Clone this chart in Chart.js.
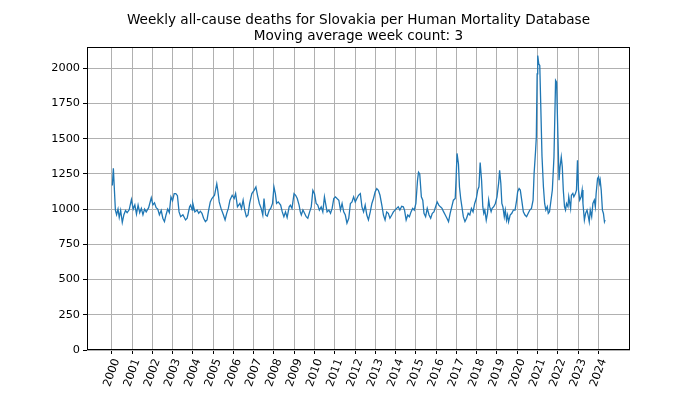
<!DOCTYPE html>
<html>
<head>
<meta charset="utf-8">
<script src="https://cdn.jsdelivr.net/npm/chart.js@4.4.1/dist/chart.umd.min.js"></script>
<style>
  html, body { margin: 0; padding: 0; background: #fff; }
  canvas { display: block; }
</style>
</head>
<body>
<canvas id="deaths-chart" width="700" height="394"></canvas>
<script>
// tick labels
const yearTicks = [2000, 2001, 2002, 2003, 2004, 2005, 2006, 2007, 2008, 2009, 2010, 2011, 2012,
                   2013, 2014, 2015, 2016, 2017, 2018, 2019, 2020, 2021, 2022, 2023, 2024];
const deathTicks = [0, 250, 500, 750, 1000, 1250, 1500, 1750, 2000];

// weekly deaths (3 week moving average): [decimal year, deaths]
const deathsByWeek = [
  [2000.03,1168],[2000.08,1290],[2000.18,993],[2000.24,960],[2000.31,1000],[2000.37,940],[2000.44,990],[2000.52,905],
  [2000.6,960],[2000.68,990],[2000.76,975],[2000.86,995],[2000.97,1068],
  [2001.06,1000],[2001.14,1030],[2001.22,965],[2001.3,1028],[2001.38,975],[2001.46,1005],[2001.54,960],[2001.62,1000],
  [2001.7,980],[2001.82,1010],[2001.95,1080],
  [2002.03,1030],[2002.11,1045],[2002.19,1010],[2002.27,1000],[2002.35,960],[2002.44,990],[2002.52,935],[2002.6,911],
  [2002.68,960],[2002.76,1000],[2002.84,975],[2002.92,1087],
  [2003.0,1060],[2003.08,1110],[2003.16,1110],[2003.24,1095],[2003.32,980],[2003.4,946],[2003.51,960],[2003.64,923],
  [2003.72,935],[2003.84,1016],[2003.89,1028],[2003.97,993],
  [2004.0,1040],[2004.1,980],[2004.21,993],[2004.29,970],[2004.37,985],[2004.45,970],[2004.53,935],[2004.62,911],
  [2004.7,923],[2004.78,993],[2004.86,1051],[2004.94,1075],
  [2005.07,1098],[2005.18,1180],[2005.23,1133],[2005.3,1051],[2005.39,1005],[2005.51,958],[2005.59,923],[2005.67,970],
  [2005.75,1005],[2005.83,1063],[2005.94,1098],
  [2006.04,1075],[2006.11,1110],[2006.2,1016],[2006.32,1040],[2006.4,1005],[2006.48,1063],[2006.56,993],[2006.64,946],
  [2006.72,958],[2006.8,1040],[2006.91,1110],
  [2007.02,1133],[2007.11,1157],[2007.19,1098],[2007.28,1040],[2007.37,1005],[2007.45,958],[2007.51,1075],[2007.59,958],
  [2007.67,950],[2007.77,993],[2007.84,1005],[2007.93,1040],
  [2008.0,1157],[2008.07,1110],[2008.13,1040],[2008.21,1051],[2008.33,1028],[2008.41,980],[2008.49,946],[2008.57,980],
  [2008.65,940],[2008.75,1016],[2008.81,1028],[2008.89,1005],[2008.99,1110],
  [2009.07,1098],[2009.15,1075],[2009.24,1028],[2009.3,980],[2009.35,958],[2009.43,993],[2009.51,970],[2009.59,946],
  [2009.67,935],[2009.76,980],[2009.84,1016],[2009.92,1133],
  [2010.0,1110],[2010.08,1040],[2010.16,1028],[2010.24,993],[2010.33,1016],[2010.41,980],[2010.49,1087],[2010.62,980],
  [2010.71,993],[2010.79,970],[2010.87,1005],[2010.95,1075],
  [2011.03,1087],[2011.11,1075],[2011.2,1063],[2011.28,993],[2011.36,1040],[2011.44,980],[2011.52,958],[2011.6,900],
  [2011.69,935],[2011.77,1040],[2011.85,1051],[2011.93,1087],
  [2012.01,1051],[2012.09,1075],[2012.17,1098],[2012.26,1110],[2012.34,1016],[2012.42,980],[2012.5,1028],[2012.58,958],
  [2012.66,923],[2012.75,980],[2012.83,1040],[2012.91,1075],[2012.99,1122],
  [2013.07,1145],[2013.15,1133],[2013.23,1098],[2013.32,1028],[2013.4,958],[2013.48,923],[2013.56,980],[2013.64,970],
  [2013.72,935],[2013.81,958],[2013.89,980],[2013.97,993],
  [2014.05,1005],[2014.13,1016],[2014.21,993],[2014.3,1020],[2014.38,1016],[2014.44,993],[2014.52,923],[2014.6,958],
  [2014.68,946],[2014.76,980],[2014.84,1005],[2014.92,993],
  [2015.0,1040],[2015.08,1204],[2015.13,1262],[2015.19,1250],[2015.27,1087],[2015.34,1063],[2015.4,970],[2015.48,946],
  [2015.56,1005],[2015.65,958],[2015.73,935],[2015.81,970],[2015.89,980],[2015.97,1016],
  [2016.05,1051],[2016.13,1028],[2016.21,1016],[2016.29,1005],[2016.37,980],[2016.45,958],[2016.53,935],[2016.61,911],
  [2016.69,970],[2016.77,1016],[2016.85,1063],[2016.94,1075],[2016.98,1204],
  [2017.03,1395],[2017.1,1320],[2017.15,1157],[2017.21,1075],[2017.27,1016],[2017.34,946],[2017.42,911],[2017.5,935],
  [2017.58,970],[2017.66,958],[2017.74,1005],[2017.82,980],[2017.9,1040],[2017.98,1075],
  [2018.05,1135],[2018.11,1158],[2018.17,1330],[2018.24,1205],[2018.3,1017],[2018.35,970],[2018.4,993],[2018.47,922],
  [2018.53,970],[2018.59,1064],[2018.64,1017],[2018.71,981],[2018.76,1005],[2018.84,1017],[2018.92,1040],
  [2019.0,1087],[2019.08,1182],[2019.13,1276],[2019.19,1182],[2019.24,1040],[2019.29,1017],[2019.36,946],[2019.41,993],
  [2019.47,922],[2019.52,958],[2019.57,910],[2019.65,958],[2019.73,970],[2019.81,993],[2019.89,993],[2019.97,1064],
  [2020.02,1123],[2020.09,1146],[2020.15,1135],[2020.22,1064],[2020.3,981],[2020.38,958],[2020.46,946],[2020.54,970],
  [2020.62,993],[2020.7,1005],[2020.78,1064],[2020.83,1252],[2020.9,1406],[2020.94,1510],[2020.98,1960],
  [2021.01,2090],[2021.06,2030],[2021.11,2020],[2021.16,1729],[2021.22,1375],[2021.29,1158],[2021.35,1040],[2021.41,993],
  [2021.48,1017],[2021.53,970],[2021.59,981],[2021.73,1135],[2021.81,1370],[2021.89,1913],[2021.94,1900],
  [2022.01,1488],[2022.06,1205],[2022.11,1300],[2022.17,1370],[2022.22,1300],[2022.27,1135],[2022.33,1017],[2022.38,993],
  [2022.43,1040],[2022.5,1017],[2022.54,1087],[2022.63,1005],[2022.67,1099],[2022.74,1111],[2022.79,1087],[2022.87,1111],
  [2022.92,1135],[2022.97,1347],
  [2023.02,1135],[2023.08,1064],[2023.15,1087],[2023.2,1135],[2023.24,1040],[2023.31,922],[2023.37,970],[2023.44,993],
  [2023.49,958],[2023.55,910],[2023.6,993],[2023.67,946],[2023.73,1040],[2023.8,1064],[2023.85,1017],[2023.89,1111],
  [2023.96,1217],
  [2024.01,1229],[2024.06,1182],[2024.09,1205],[2024.14,1135],[2024.2,993],[2024.25,969],[2024.3,910],[2024.33,922]
];

const FONT = 'DejaVu Sans';

// matplotlib style box round the plot area
const frame = {
    id: 'frame',
    afterDraw(chart) {
        const a = chart.chartArea;
        const ctx = chart.ctx;
        ctx.save();
        ctx.strokeStyle = '#000';
        ctx.lineWidth = 1;
        ctx.strokeRect(Math.round(a.left) + 0.5, Math.round(a.top) + 0.5,
                       Math.round(a.right - a.left) - 1, Math.round(a.bottom - a.top) - 1);
        ctx.restore();
    }
};

const ctx = document.getElementById('deaths-chart').getContext('2d');
var chart = new Chart(ctx, {
    type: 'line',
    data: {
        datasets: [
            {
                label: 'Deaths',
                data: deathsByWeek.map(function (p) { return {x: p[0], y: p[1]}; }),
                borderColor: '#1f77b4',
                backgroundColor: '#1f77b4',
                borderWidth: 1.3,
                pointRadius: 0,
                tension: 0,
                fill: false,
            },
        ],
    },
    plugins: [frame],
    options: {
        responsive: false,
        animation: false,
        devicePixelRatio: 1,
        events: [],
        layout: { padding: { left: 0, right: 70, top: 0, bottom: 0 } },
        plugins: {
            legend: { display: false },
            tooltip: { enabled: false },
            title: {
                display: true,
                fullSize: false,
                text: ['Weekly all-cause deaths for Slovakia per Human Mortality Database',
                       'Moving average week count: 3'],
                color: '#000',
                font: { family: FONT, size: 13.6, weight: 'normal', lineHeight: 1.2 },
                padding: { top: 12, bottom: 2.4 },
            },
        },
        scales: {
            x: {
                type: 'linear',
                min: 1998.78,
                max: 2025.56,
                afterFit: function (scale) { scale.height = 44; },
                afterBuildTicks: function (scale) {
                    scale.ticks = yearTicks.map(function (v) { return {value: v}; });
                },
                grid: { color: '#b0b0b0', lineWidth: 1, tickLength: 4, tickColor: '#000' },
                border: { display: false },
                ticks: {
                    autoSkip: false,
                    minRotation: 70,
                    maxRotation: 70,
                    labelOffset: 5,
                    padding: 3,
                    color: '#000',
                    font: { family: FONT, size: 11.3 },
                    callback: function (value) { return String(value); }
                }
            },
            y: {
                min: 0,
                max: 2150,
                afterFit: function (scale) { scale.width = 87; },
                afterBuildTicks: function (scale) {
                    scale.ticks = deathTicks.map(function (v) { return {value: v}; });
                },
                grid: { color: '#b0b0b0', lineWidth: 1, tickLength: 4, tickColor: '#000' },
                border: { display: false },
                ticks: {
                    padding: 3,
                    color: '#000',
                    font: { family: FONT, size: 11.3 },
                    callback: function (value) { return String(value); }
                }
            }
        },
    },
});
</script>
</body>
</html>
